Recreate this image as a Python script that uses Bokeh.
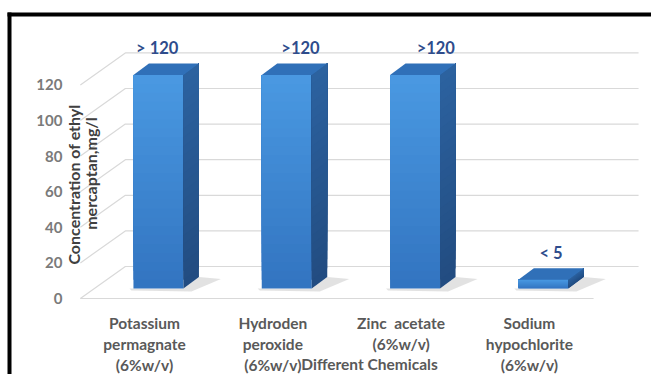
from bokeh.plotting import figure
from bokeh.models import Range1d, ColumnDataSource
from bokeh.core.properties import value
from bokeh.embed import file_html
from bokeh.resources import INLINE

# ---- data -------------------------------------------------------------
categories = [
    "Potassium\npermagnate\n(6%w/v)",
    "Hydroden\nperoxide\n(6%w/v)",
    "Zinc  acetate\n(6%w/v)",
    "Sodium\nhypochlorite\n(6%w/v)",
]
concentration = [120, 120, 120, 5]
value_labels = ["> 120", ">120", ">120", "< 5"]
y_ticks = [0, 20, 40, 60, 80, 100, 120]
x_title = "Different Chemicals"
y_title = ["Concentration of ethyl", "mercaptan,mg/l"]

# ---- geometry / style -------------------------------------------------
W, H = 651, 374
X0_PX, STEP_PX = 144.0, 128.3   # screen x of first category centre, px per category
Y0_PX, UNIT_PX = 298.0, 1.78    # screen y of value 0 on the front plane, px per unit


def sx(px):
    return (px - X0_PX) / STEP_PX


def sy(py):
    return (Y0_PX - py) / UNIT_PX


def dxu(px):
    return px / STEP_PX


def dyu(px):
    return px / UNIT_PX


def mix(c1, c2, t):
    a = [int(c1[k:k + 2], 16) for k in (1, 3, 5)]
    b = [int(c2[k:k + 2], 16) for k in (1, 3, 5)]
    return "#%02x%02x%02x" % tuple(round(x + (y - x) * t) for x, y in zip(a, b))


FLOOR_DX, FLOOR_DY = dxu(45), dyu(32)      # depth of the floor / back wall
BAR_POS = 0.31                             # bars sit this far into the floor depth
BAR_W = dxu(50)
BAR_DX, BAR_DY = dxu(15.5), dyu(11.5)      # depth of each bar box
LABEL_NUDGE_PX = [-9, 6, 13, 0]
BANDS = 24                                 # shading bands per bar face

FONT = value("Lato")
GRID = "#d9d9d9"
FRONT_TOP, FRONT_BOT = "#4a99e2", "#3274c0"
SIDE_TOP, SIDE_BOT = "#2c62a0", "#224c80"
TOP = "#3070b8"

p = figure(width=W, height=H, output_backend="svg", toolbar_location=None,
           x_range=Range1d(sx(0), sx(W)), y_range=Range1d(sy(H), sy(0)),
           x_axis_type=None, y_axis_type=None, min_border=0,
           outline_line_color=None, background_fill_color="white")
p.xgrid.visible = False
p.ygrid.visible = False

n = len(categories)
x_left = -0.5
x_right = n - 0.5

# back-wall gridlines with diagonal leaders to the front plane
gx, gy = [], []
for t in y_ticks:
    gx.append([x_left, x_left + FLOOR_DX, x_right + FLOOR_DX])
    gy.append([t, t + FLOOR_DY, t + FLOOR_DY])
gx.append([x_left, x_right])
gy.append([0, 0])
p.multi_line(gx, gy, line_color=GRID, line_width=1.2)

# value tick labels on the front plane
p.text([x_left - dxu(18)] * len(y_ticks), y_ticks, text=[str(t) for t in y_ticks],
       text_font=FONT, text_font_style="bold", text_font_size="15px",
       text_color="#7a7a7a", text_align="right", text_baseline="middle")

# bars as boxes: front, top and side faces
bx0 = BAR_POS * FLOOR_DX
by0 = BAR_POS * FLOOR_DY
lefts = [i + bx0 - BAR_W / 2 for i in range(n)]
rights = [i + bx0 + BAR_W / 2 for i in range(n)]
tops = [by0 + v for v in concentration]

shadow_x, shadow_y = [], []
top_x, top_y = [], []
fl, fr, fb, ft, fc = [], [], [], [], []
side_x, side_y, side_c = [], [], []
for l, r, t in zip(lefts, rights, tops):
    shadow_x.append([l - dxu(4), r, r + BAR_DX, r + BAR_DX + dxu(22), r + dxu(8), l - dxu(2)])
    shadow_y.append([by0, by0, by0 + BAR_DY, by0 + BAR_DY - dyu(2), by0 - dyu(3), by0 - dyu(2)])
    top_x.append([l, l + BAR_DX, r + BAR_DX, r])
    top_y.append([t, t + BAR_DY, t + BAR_DY, t])
    h = t - by0
    # each band reaches to the top; the next one is painted over it
    for k in range(BANDS):
        b0 = by0 + h * k / BANDS
        shade = 1 - (k + 0.5) / BANDS
        fl.append(l)
        fr.append(r)
        fb.append(b0)
        ft.append(t)
        fc.append(mix(FRONT_TOP, FRONT_BOT, shade))
        side_x.append([r, r, r + BAR_DX, r + BAR_DX])
        side_y.append([b0, t, t + BAR_DY, b0 + BAR_DY])
        side_c.append(mix(SIDE_TOP, SIDE_BOT, shade))

p.patches(shadow_x, shadow_y, fill_color="#a0a0a0", fill_alpha=0.3, line_color=None)
p.quad(left=fl, right=fr, bottom=fb, top=ft, fill_color=fc, line_color=None)
p.patches(side_x, side_y, fill_color=side_c, line_color=None)
p.patches(top_x, top_y, fill_color=TOP, line_color=None)

# value labels above each bar
lab_src = ColumnDataSource(dict(
    x=[i + bx0 + BAR_DX / 2 + dxu(nd) for i, nd in zip(range(n), LABEL_NUDGE_PX)],
    y=[t + BAR_DY + dyu(15) for t in tops],
    text=value_labels,
))
p.text("x", "y", text="text", source=lab_src, text_font=FONT, text_font_style="bold",
       text_font_size="16.5px", text_color="#2e4c8c", text_align="center",
       text_baseline="middle")

# category labels, one row per line
cx, cy, ct = [], [], []
for i, c in enumerate(categories):
    for k, line in enumerate(c.split("\n")):
        cx.append(i)
        cy.append(sy(322) - k * dyu(21))
        ct.append(line.replace("  ", "\u00a0 "))
p.text(cx, cy, text=ct, text_font=FONT, text_font_style="bold", text_font_size="15.5px",
       text_color="#595959", text_align="center", text_baseline="middle")

# axis titles
p.text([sx(369)], [sy(363)], text=[x_title], text_font=FONT, text_font_style="bold",
       text_font_size="15.5px", text_color="#595959", text_align="center",
       text_baseline="middle")
p.text([sx(73), sx(90)], [sy(184), sy(173)], text=y_title, angle=1.5708,
       text_font=FONT, text_font_style="bold", text_font_size="16px",
       text_color="#404040", text_align="center", text_baseline="middle")

# chart border (left and top edges)
p.quad(left=[sx(7), sx(7)], right=[sx(11), sx(W + 5)],
       bottom=[sy(H + 5), sy(16)], top=[sy(12), sy(12)],
       fill_color="black", line_color=None)

open("out.html", "w").write(file_html(p, INLINE))
